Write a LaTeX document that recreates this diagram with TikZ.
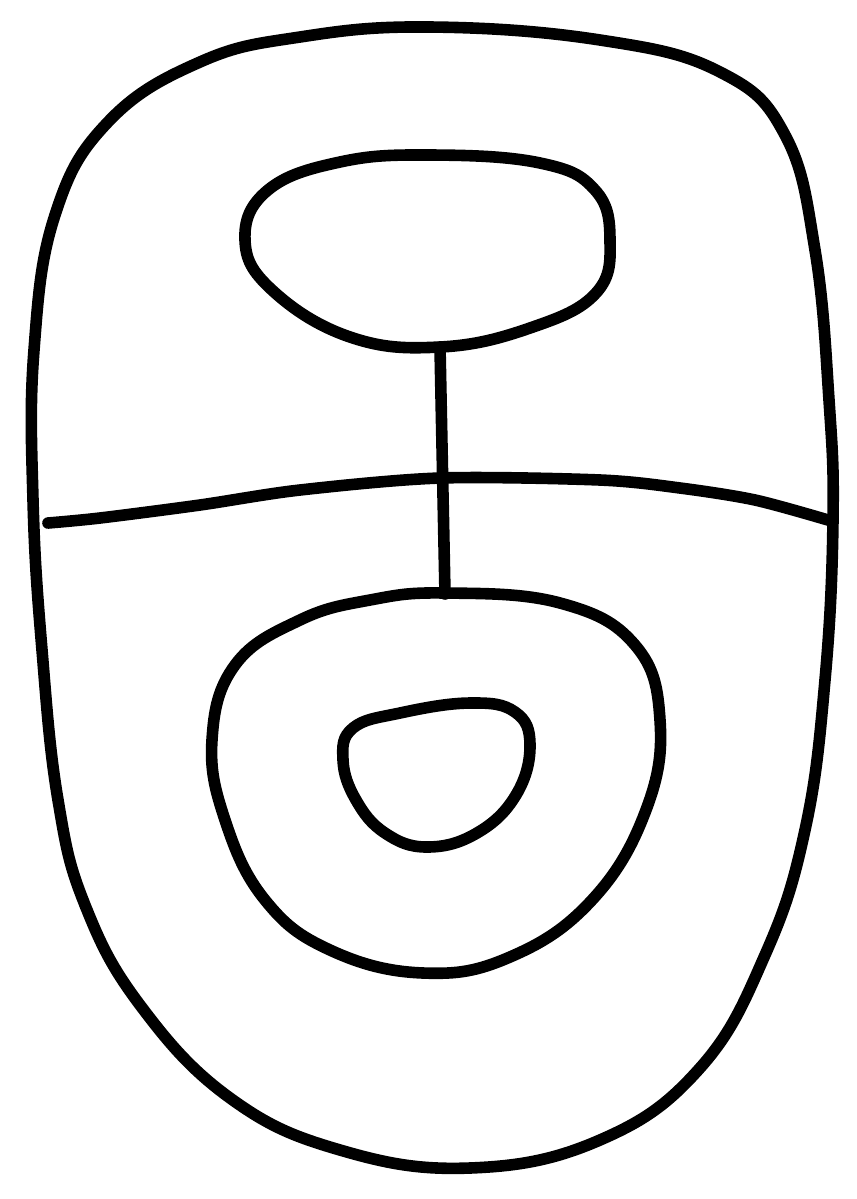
\documentclass[tikz,border=0pt]{standalone}
\usepackage{tikz}
\usetikzlibrary{calc}

\begin{document}
\begin{tikzpicture}[x=0.01cm, y=-0.01cm,
    outline/.style={draw=black, line width=3.3pt, line join=round, line cap=round}
]
    \useasboundingbox (0,0) rectangle (857,1199);

    % outer body
    \draw[outline] plot[smooth cycle, tension=0.7] coordinates {
        (430,27) (600,40) (720,72) (785,135) (815,250) (829,400) (833,520)
        (825,680) (805,830) (765,955) (700,1068) (600,1140) (470,1168)
        (340,1150) (230,1098) (140,1005) (85,905) (58,800) (42,650)
        (33,500) (34,350) (55,215) (108,122) (200,62) (300,37)};

    % upper blob
    \draw[outline] plot[smooth cycle, tension=0.7] coordinates {
        (430,155) (540,163) (595,190) (610,240) (596,293) (530,328)
        (440,347) (350,337) (272,290) (245,240) (268,190) (340,162)};
    \coordinate (upbot) at (440,347);

    % lower blob
    \draw[outline] plot[smooth cycle, tension=0.7] coordinates {
        (445,593) (560,603) (635,645) (660,720) (646,810) (592,900)
        (510,957) (423,973) (330,950) (265,900) (225,820) (212,740)
        (235,665) (300,620) (370,600)};
    \coordinate (lowtop) at (445,594);

    % inner blob
    \draw[outline] plot[smooth cycle, tension=0.7] coordinates {
        (400,713) (470,703) (515,712) (530,745) (516,795) (477,833)
        (427,847) (385,833) (356,800) (343,760) (353,728)};

    % divider
    \draw[outline] plot[smooth, tension=0.5] coordinates {
        (48,523) (100,518) (200,505) (300,490) (440,478) (600,480)
        (680,488) (755,500) (828,520)};

    \draw[outline] (upbot) -- (lowtop);
\end{tikzpicture}
\end{document}
